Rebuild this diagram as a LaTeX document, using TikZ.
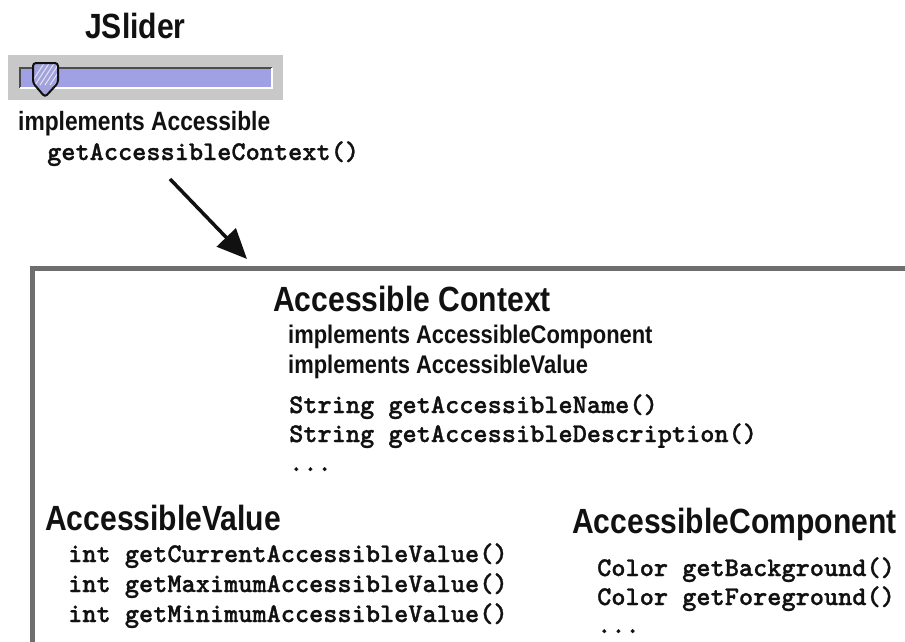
\documentclass[tikz,border=0pt]{standalone}
\usepackage{fontspec}
\usetikzlibrary{arrows.meta}
\newfontfamily\hv[FakeStretch=0.86]{Liberation Sans}
\newfontfamily\mono[FakeBold=1.1]{lmmonolt10-bold.otf}
\definecolor{boxgray}{HTML}{6E6E6E}
\definecolor{slbg}{HTML}{C8C8C8}
\definecolor{trackc}{HTML}{A0A0E4}
\definecolor{thumbc}{HTML}{A2A2DC}
\definecolor{ink}{HTML}{111111}
\tikzset{
  head/.style={anchor=base west, inner sep=0pt, text=ink, font=\hv\bfseries\fontsize{35}{35}\selectfont},
  sub/.style={anchor=base west, inner sep=0pt, text=ink, font=\hv\bfseries\fontsize{25.5}{25.5}\selectfont},
  code/.style={anchor=base west, inner sep=0pt, text=ink, font=\mono\fontsize{27}{27}\selectfont},
  arrowline/.style={line width=3.5pt, ink, -{Triangle[length=30pt,width=26pt]}},
  boxline/.style={line width=5pt, boxgray},
}
\begin{document}
\begin{tikzpicture}[x=1pt,y=-1pt]
\useasboundingbox (0,0) rectangle (905,641);
\clip (0,0) rectangle (905,641);
\fill[white] (0,0) rectangle (905,641);

% slider
\fill[slbg] (8,55) rectangle (283,100);
\fill[trackc] (20,68) rectangle (272,88);
\draw[gray!60!black, line width=1.4pt] (20,88) -- (20,68) -- (272,68);
\draw[white, line width=1.2pt] (20,88) -- (272,88) -- (272,68);
\begin{scope}
  \clip[rounded corners=3pt] (33,83) -- (33,63) -- (58,63) -- (58,83) -- (45,97) -- cycle;
  \fill[thumbc] (30,60) rectangle (62,100);
  \foreach \d in {0,5,...,35} {
    \draw[white!70!thumbc, line width=1pt] (30+\d,85) -- (45+\d,62);
  }
\end{scope}
\draw[ink, line width=2pt, rounded corners=3pt] (33,83) -- (33,63) -- (58,63) -- (58,83) -- (45,97) -- cycle;

% top texts
\node[head] (jslider) at (85,38) {JSlider};
\node[sub, font=\hv\bfseries\fontsize{26.5}{26.5}\selectfont] (impl) at (18,130) {implements Accessible};
\node[code] (call) at (47,160) {getAccessibleContext()};

% arrow
\coordinate (a1) at (170,179);
\coordinate (a2) at (247,259);
\draw[arrowline] (a1) -- (a2);

% context box
\draw[boxline] (32.5,268.5) rectangle (940,700);

\node[head] (ctx) at (273,311) {Accessible Context};
\node[sub] (ic) at (288,343) {implements AccessibleComponent};
\node[sub] (iv) at (288,373) {implements AccessibleValue};
\node[code] (s1) at (289,413) {String getAccessibleName()};
\node[code] (s2) at (289,442) {String getAccessibleDescription()};
\node[code] (s3) at (289,471) {...};

\node[head] (av) at (45,530) {AccessibleValue};
\node[code] (v1) at (68,562) {int getCurrentAccessibleValue()};
\node[code] (v2) at (68,592) {int getMaximumAccessibleValue()};
\node[code] (v3) at (68,622) {int getMinimumAccessibleValue()};

\node[head] (ac) at (572,533) {AccessibleComponent};
\node[code] (c1) at (597,576) {Color getBackground()};
\node[code] (c2) at (597,605) {Color getForeground()};
\node[code] (c3) at (597,633) {...};
\end{tikzpicture}
\end{document}
